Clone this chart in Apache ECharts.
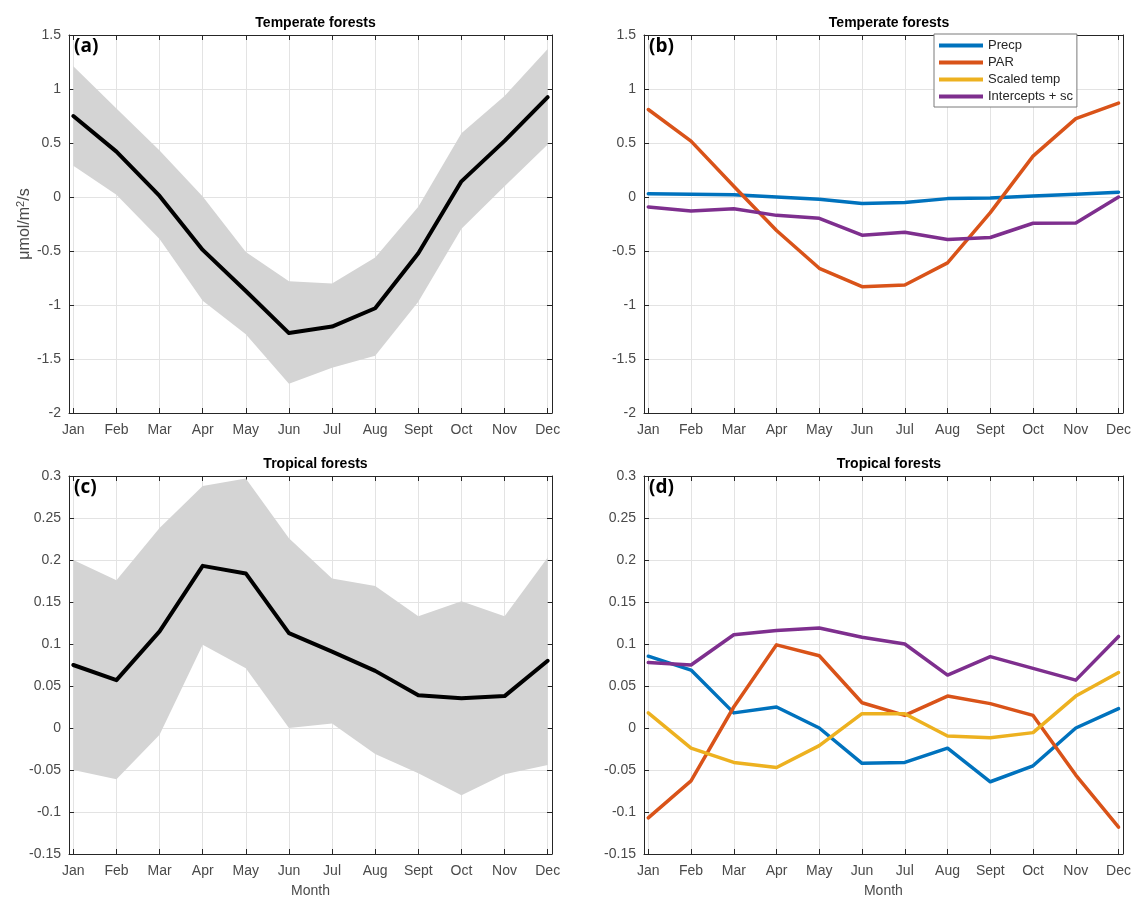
<!DOCTYPE html>
<html><head><meta charset="utf-8">
<script src="https://cdn.jsdelivr.net/npm/echarts@6/dist/echarts.min.js"></script>
<style>html,body{margin:0;padding:0;background:#fff}#c{width:1134px;height:899px}</style>
</head><body><div id="c"></div>
<script>
const months = ['Jan','Feb','Mar','Apr','May','Jun','Jul','Aug','Sept','Oct','Nov','Dec'];
const monthIdx = [1,2,3,4,5,6,7,8,9,10,11,12];
const seriesNames = ['Precp','PAR','Scaled temp','Intercepts + sc'];
const panelTitles = ['Temperate forests','Temperate forests','Tropical forests','Tropical forests'];
const panelTags = ['(a)','(b)','(c)','(d)'];
const yUnit = '{u|μmol/m}{sup|2}{u|/s}';
const xName = 'Month';

// Temperate forests (a)
const tempMean  = [0.75, 0.42, 0.01, -0.49, -0.87, -1.26, -1.20, -1.03, -0.52, 0.145, 0.52, 0.925];
const tempUpper = [1.21, 0.82, 0.43, 0.005, -0.51, -0.78, -0.80, -0.56, -0.09, 0.59, 0.935, 1.37];
const tempLower = [0.29, 0.02, -0.39, -0.96, -1.27, -1.73, -1.58, -1.47, -0.97, -0.295, 0.10, 0.487];
// Temperate forests (b)
const tempPrecp      = [0.03, 0.025, 0.02, 0.0, -0.02, -0.06, -0.05, -0.015, -0.01, 0.01, 0.025, 0.045];
const tempPAR        = [0.81, 0.517, 0.10, -0.31, -0.66, -0.83, -0.815, -0.61, -0.145, 0.378, 0.726, 0.87];
const tempScaledTemp = [];
const tempIntercepts = [-0.092, -0.13, -0.108, -0.17, -0.197, -0.354, -0.326, -0.394, -0.375, -0.243, -0.24, 0.0];
// Tropical forests (c)
const tropMean  = [0.075, 0.057, 0.115, 0.193, 0.184, 0.113, 0.091, 0.068, 0.039, 0.0355, 0.038, 0.08];
const tropUpper = [0.2, 0.176, 0.238, 0.288, 0.297, 0.226, 0.178, 0.169, 0.133, 0.151, 0.133, 0.203];
const tropLower = [-0.05, -0.061, -0.008, 0.099, 0.071, 0.0, 0.0055, -0.031, -0.054, -0.08, -0.055, -0.044];
// Tropical forests (d)
const tropPrecp      = [0.0855, 0.069, 0.018, 0.025, 0.0, -0.042, -0.041, -0.024, -0.064, -0.045, 0.0, 0.023];
const tropPAR        = [-0.107, -0.063, 0.025, 0.099, 0.086, 0.03, 0.015, 0.038, 0.029, 0.015, -0.056, -0.118];
const tropScaledTemp = [0.018, -0.024, -0.041, -0.047, -0.021, 0.017, 0.017, -0.0095, -0.0115, -0.0055, 0.038, 0.066];
const tropIntercepts = [0.078, 0.075, 0.111, 0.116, 0.119, 0.108, 0.1, 0.063, 0.085, 0.071, 0.057, 0.109];

const yTemperate = {min: -2, max: 1.5, interval: 0.5};
const yTropical  = {min: -0.15, max: 0.3, interval: 0.05};

const colors = ['#0072BD','#D95319','#EDB120','#7E2F8E'];
const FONT = 'Liberation Sans, Arial, sans-serif';
const labelColor = '#4a4a4a';
const axisColor = '#262626';
const gridColor = '#e3e3e3';

const grids = [
  {left: 69, top: 35, width: 483, height: 378},
  {left: 644, top: 35, width: 480, height: 378},
  {left: 69, top: 476, width: 483, height: 380},
  {left: 644, top: 476, width: 480, height: 380}
];
const yRanges = [yTemperate, yTemperate, yTropical, yTropical];

const xAxes = [], yAxes = [], series = [], titles = [], graphics = [];
grids.forEach((g, k) => {
  const yr = yRanges[k];
  xAxes.push({
    type: 'value', gridIndex: k, min: 0.9, max: 12.1, position: 'bottom',
    name: k >= 2 ? xName : '', nameLocation: 'middle', nameGap: 30,
    nameTextStyle: {color: labelColor, fontSize: 14, fontFamily: FONT},
    axisLine: {show: true, onZero: false, lineStyle: {color: axisColor, width: 1}},
    axisTick: {show: true, inside: true, length: 5, customValues: monthIdx, lineStyle: {color: axisColor}},
    axisLabel: {show: true, customValues: monthIdx, formatter: v => months[Math.round(v) - 1],
      color: labelColor, fontSize: 14, fontFamily: FONT, margin: 10},
    splitLine: {show: true, lineStyle: {color: gridColor, width: 1}}
  });
  xAxes.push({
    type: 'value', gridIndex: k, min: 0.9, max: 12.1, position: 'top',
    axisLine: {show: true, onZero: false, lineStyle: {color: axisColor, width: 1}},
    axisTick: {show: true, inside: true, length: 5, customValues: monthIdx, lineStyle: {color: axisColor}},
    axisLabel: {show: false}, splitLine: {show: false}
  });
  yAxes.push({
    type: 'value', gridIndex: k, min: yr.min, max: yr.max, interval: yr.interval, position: 'left',
    name: k === 0 ? yUnit : '', nameLocation: 'middle', nameGap: 34, nameRotate: 90,
    nameTextStyle: {color: labelColor, fontSize: 16, fontFamily: FONT,
      rich: {u: {fontSize: 16, color: labelColor, fontFamily: FONT},
             sup: {fontSize: 11, color: labelColor, fontFamily: FONT, verticalAlign: 'top', padding: [0, 0, 8, 0]}}},
    axisLine: {show: true, onZero: false, lineStyle: {color: axisColor, width: 1}},
    axisTick: {show: true, inside: true, length: 5, lineStyle: {color: axisColor}},
    axisLabel: {color: labelColor, fontSize: 14, fontFamily: FONT, margin: 8},
    splitLine: {show: true, lineStyle: {color: gridColor, width: 1}}
  });
  yAxes.push({
    type: 'value', gridIndex: k, min: yr.min, max: yr.max, interval: yr.interval, position: 'right',
    axisLine: {show: true, onZero: false, lineStyle: {color: axisColor, width: 1}},
    axisTick: {show: true, inside: true, length: 5, lineStyle: {color: axisColor}},
    axisLabel: {show: false}, splitLine: {show: false}
  });
  titles.push({
    text: panelTitles[k], left: g.left + g.width / 2, top: g.top - 24, textAlign: 'center',
    textStyle: {fontSize: 14, fontWeight: 'bold', color: '#000', fontFamily: FONT}
  });
  graphics.push({
    type: 'text', left: g.left + 5, top: g.top + 2, z: 100,
    style: {text: panelTags[k], font: 'bold 19px "Open Sans", sans-serif', fill: '#000'}
  });
});

const pairs = arr => arr.map((v, i) => [monthIdx[i], v]);

function band(k, upper, lower) {
  return {
    type: 'custom', xAxisIndex: 2 * k, yAxisIndex: 2 * k, silent: true, z: 1,
    data: [[6, 0]],
    renderItem: (params, api) => {
      const pts = upper.map((v, i) => api.coord([monthIdx[i], v]))
        .concat(lower.map((v, i) => api.coord([monthIdx[i], v])).reverse());
      return {type: 'polygon', shape: {points: pts}, style: {fill: '#d4d4d4'}};
    }
  };
}
function line(k, name, data, color, width) {
  return {
    type: 'line', name: name, xAxisIndex: 2 * k, yAxisIndex: 2 * k, data: pairs(data),
    showSymbol: false, symbol: 'none', z: 5,
    lineStyle: {color: color, width: width, cap: 'round', join: 'round'},
    itemStyle: {color: color}
  };
}

series.push(band(0, tempUpper, tempLower));
series.push(line(0, 'mean', tempMean, '#000', 4));
[tempPrecp, tempPAR, tempScaledTemp, tempIntercepts].forEach((d, j) => series.push(line(1, seriesNames[j], d, colors[j], 3.5)));
series.push(band(2, tropUpper, tropLower));
series.push(line(2, 'mean', tropMean, '#000', 4));
[tropPrecp, tropPAR, tropScaledTemp, tropIntercepts].forEach((d, j) => series.push(line(3, seriesNames[j], d, colors[j], 3.5)));

const chart = echarts.init(document.getElementById('c'), null, {renderer: 'canvas'});
chart.setOption({
  animation: false,
  backgroundColor: '#fff',
  title: titles,
  grid: grids,
  xAxis: xAxes,
  yAxis: yAxes,
  legend: {
    data: seriesNames, orient: 'vertical', left: 934, top: 34,
    icon: 'rect', itemWidth: 44, itemHeight: 4, itemGap: 4,
    padding: [5, 4, 4, 5], backgroundColor: '#fff', borderColor: '#7a7a7a', borderWidth: 1,
    textStyle: {fontSize: 13, color: '#262626', fontFamily: FONT}
  },
  graphic: graphics,
  series: series
});
</script></body></html>
